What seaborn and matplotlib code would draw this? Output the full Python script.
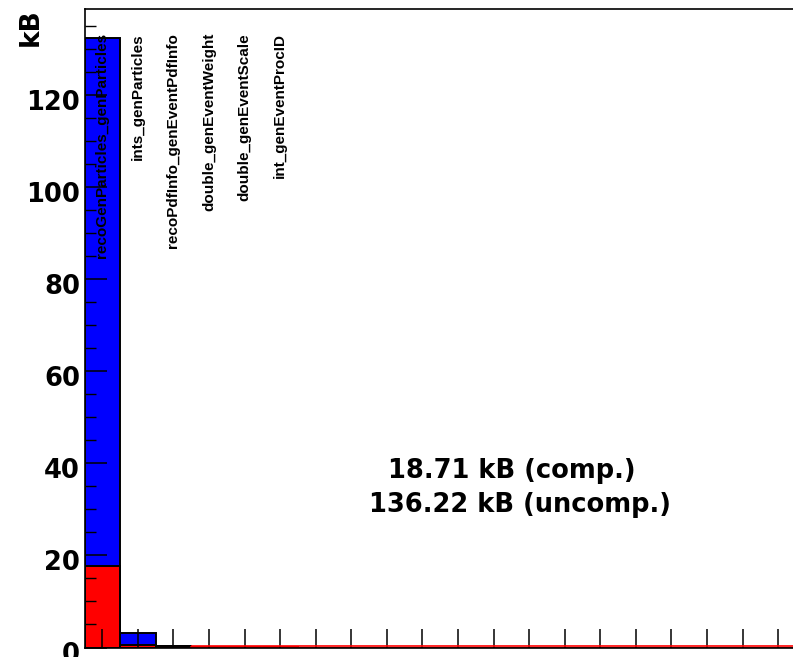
import matplotlib
matplotlib.use("Agg")
import matplotlib.pyplot as plt
from matplotlib.transforms import ScaledTranslation, blended_transform_factory
from matplotlib.ticker import MultipleLocator
import seaborn as sns
import pandas as pd

# Branch sizes per event (kB), one bin per branch; trailing bins are empty
branches = [
    "recoGenParticles_genParticles",
    "ints_genParticles",
    "recoPdfInfo_genEventPdfInfo",
    "double_genEventWeight",
    "double_genEventScale",
    "int_genEventProcID",
]
uncompressed_kb = [132.50, 3.22, 0.42, 0.03, 0.02, 0.03,
                   0, 0, 0, 0, 0, 0, 0, 0, 0, 0, 0, 0, 0, 0]
compressed_kb = [17.70, 0.45, 0.40, 0.06, 0.05, 0.05,
                 0, 0, 0, 0, 0, 0, 0, 0, 0, 0, 0, 0, 0, 0]
y_ticks = [0, 20, 40, 60, 80, 100, 120]

n_bins = len(uncompressed_kb)
df = pd.DataFrame({
    "bin": list(range(n_bins)),
    "uncomp": uncompressed_kb,
    "comp": compressed_kb,
})

sns.set_style("white")
plt.rcParams["font.family"] = ["DejaVu Sans"]
plt.rcParams["text.color"] = "black"
plt.rcParams["xtick.color"] = "black"
plt.rcParams["ytick.color"] = "black"

fig = plt.figure(figsize=(7.93, 6.57), dpi=100)
ax = fig.add_axes([84.5 / 793, 9.5 / 657, (796 - 84.5) / 793, (647.5 - 9) / 657])

order = list(range(n_bins))
sns.barplot(data=df, x="bin", y="uncomp", order=order, color="#0000ff",
            saturation=1, width=1.0, edgecolor="black", linewidth=1.4,
            errorbar=None, ax=ax)
n_blue = len(ax.patches)
sns.barplot(data=df, x="bin", y="comp", order=order, color="#ff0000",
            saturation=1, width=1.0, edgecolor="black", linewidth=1.4,
            errorbar=None, ax=ax)

# empty / negligible compressed bins: red outline just above the baseline
lift = ax.transData + ScaledTranslation(0, 1.3 / 100, fig.dpi_scale_trans)
for patch, val in zip(ax.patches[n_blue:], compressed_kb):
    if val < 0.1:
        patch.set_edgecolor("#ff0000")
        patch.set_linewidth(1.2)
        x0 = patch.get_x()
        ax.plot([x0, x0 + patch.get_width()], [val, val], color="#ff0000",
                lw=1.2, solid_capstyle="butt", transform=lift, zorder=3,
                clip_on=False)

ax.set_axisbelow(False)
ax.set_xlim(-0.5, n_bins - 0.5)
ax.set_ylim(0, 138.8)
ax.set_xlabel("")
ax.set_ylabel("")

ax.set_yticks(y_ticks)
ax.set_yticklabels([str(t) for t in y_ticks])
ax.yaxis.set_minor_locator(MultipleLocator(5))
ax.tick_params(axis="y", which="major", direction="in", length=15.8, width=1.1,
               color="black", pad=3.2, labelsize=18.5, labelcolor="black", left=True)
ax.tick_params(axis="y", which="minor", direction="in", length=7.9, width=1.0,
               color="black", left=True)
for lbl in ax.get_yticklabels():
    lbl.set_fontweight("bold")
    lbl.set_transform(lbl.get_transform() + ScaledTranslation(0, -5 / 100, fig.dpi_scale_trans))

ax.set_xticks(order)
ax.set_xticklabels([])
ax.tick_params(axis="x", which="major", direction="in", length=13.5, width=1.1,
               color="black", bottom=True)

for side in ["top", "left", "bottom"]:
    ax.spines[side].set_color("black")
    ax.spines[side].set_linewidth(1.2)
ax.spines["right"].set_visible(False)

# branch names written vertically above their bins
trans = blended_transform_factory(ax.transData, ax.transAxes)
for i, name in enumerate(branches):
    ax.text(i, 0.9624, name, rotation=90, ha="center", va="top",
            fontsize=11, fontweight="bold", family=["Liberation Sans", "DejaVu Sans"],
            color="black", transform=trans, zorder=5)

fig.text((19 + 42) / 2 / 793, 1 - 8 / 657, "kB", rotation=90, ha="center", va="top",
         fontsize=19, fontweight="bold", color="black")

total_comp = sum(compressed_kb)
total_uncomp = sum(uncompressed_kb)
fig.text(511.5 / 793, 1 - 477.7 / 657, f"{total_comp:.2f} kB (comp.)",
         ha="center", va="baseline", fontsize=18.5, fontweight="bold", color="black")
fig.text(520 / 793, 1 - 511.7 / 657, f"{total_uncomp:.2f} kB (uncomp.)",
         ha="center", va="baseline", fontsize=18.5, fontweight="bold", color="black")

fig.savefig("out.png", dpi=100)
